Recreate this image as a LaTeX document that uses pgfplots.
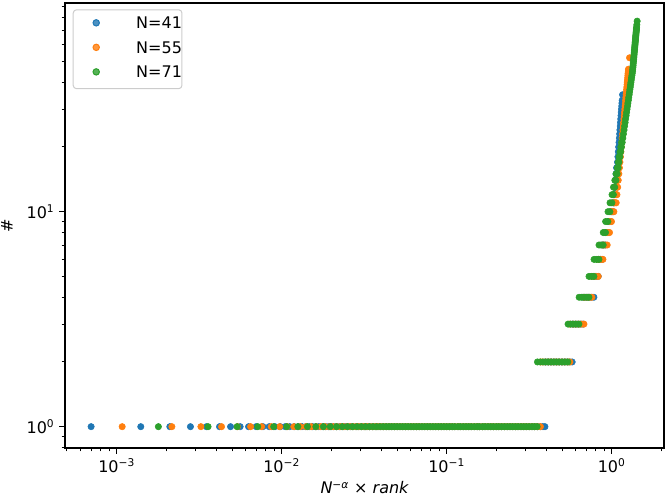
\documentclass[border=0pt]{standalone}
\usepackage{fontspec}
\setmainfont{DejaVu Sans}
\usepackage{pgfplots}
\pgfplotsset{compat=1.18}
\definecolor{c1}{HTML}{1F77B4}
\definecolor{c2}{HTML}{FF7F0E}
\definecolor{c3}{HTML}{2CA02C}
\newcommand{\fs}{\fontsize{12}{14}\selectfont}
\begin{document}
\begin{tikzpicture}
\begin{loglogaxis}[
  scale only axis, width=449.25pt, height=333.75pt,
  xmin=4.862e-4, xmax=2.075, ymin=0.796, ymax=93.5,
  log basis x=10, log basis y=10,
  axis line style={line width=1pt},
  tick align=outside, tick pos=left,
  major tick length=4.4pt, minor tick length=2.5pt,
  major tick style={line width=1pt, black},
  minor tick style={line width=0.75pt, black},
  xtick={0.001,0.01,0.1,1},
  xticklabels={10\textsuperscript{−3},10\textsuperscript{−2},10\textsuperscript{−1},10\textsuperscript{0}},
  minor xtick={0.0005,0.0006,0.0007,0.0008,0.0009,0.002,0.003,0.004,0.005,0.006,0.007,0.008,0.009,0.02,0.03,0.04,0.05,0.06,0.07,0.08,0.09,0.2,0.3,0.4,0.5,0.6,0.7,0.8,0.9,2},
  ytick={1,10},
  yticklabels={10\textsuperscript{0},10\textsuperscript{1}},
  minor ytick={0.8,0.9,2,3,4,5,6,7,8,9,20,30,40,50,60,70,80,90},
  ticklabel style={font=\fs},
  xlabel={{\itshape N}\textsuperscript{−\itshape α} × {\itshape rank}},
  ylabel={\#},
  xlabel style={at={(axis description cs:0.5,-0.0899)}, anchor=center, font=\fs},
  ylabel style={at={(axis description cs:-0.0968,0.5)}, anchor=center, font=\fs},
  legend style={at={(axis description cs:0,1)}, anchor=north west, xshift=5.8pt, yshift=-4.7pt,
    draw=black!20, line width=0.75pt, rounded corners=2.5pt, fill=white, fill opacity=0.8, text opacity=1,
    inner xsep=0pt, inner ysep=5.2pt, row sep=6.4pt, column sep=0pt, font=\fs,
    nodes={inner sep=0pt, text height=9pt, text depth=3pt, anchor=base west}},
  legend image code/.code={\path[draw=none,fill=none] (-17.25pt,0pt) rectangle (30pt,1pt); \draw[mark repeat=1,mark phase=1,#1] plot coordinates {(0pt,4.4pt)};},
  every axis plot/.append style={only marks, mark=*, mark size=2.4pt},
]
% N=41
\addplot[c1, mark options={draw=c1, fill=c1}] coordinates {
(0.0007,1)(0.0014,1)(0.0021,1)(0.0028,1)(0.0035,1)(0.0042,1)(0.0049,1)(0.0056,1)(0.0063,1)(0.007,1)(0.0077,1)(0.0084,1)(0.0091,1)(0.0098,1)(0.0105,1)(0.0112,1)(0.0119,1)(0.0126,1)(0.0133,1)(0.014,1)(0.0147,1)(0.0154,1)(0.0161,1)(0.0168,1)
(0.0178,1)(0.0185,1)(0.0192,1)(0.02,1)(0.0207,1)(0.0215,1)(0.0224,1)(0.0233,1)(0.0242,1)(0.0251,1)(0.0261,1)(0.0271,1)(0.0282,1)(0.0293,1)(0.0304,1)(0.0316,1)(0.0329,1)(0.0341,1)(0.0355,1)(0.0369,1)(0.0383,1)(0.0398,1)(0.0414,1)(0.043,1)(0.0447,1)(0.0464,1)(0.0482,1)(0.0501,1)(0.0521,1)(0.0541,1)(0.0562,1)(0.0584,1)(0.0607,1)(0.0631,1)(0.0656,1)(0.0681,1)(0.0708,1)(0.0736,1)(0.0764,1)(0.0794,1)(0.0825,1)(0.0858,1)(0.0891,1)(0.0926,1)(0.0962,1)(0.1,1)(0.104,1)(0.108,1)(0.112,1)(0.117,1)(0.121,1)(0.126,1)(0.131,1)(0.136,1)(0.141,1)(0.147,1)(0.153,1)(0.158,1)(0.165,1)(0.171,1)(0.178,1)(0.185,1)(0.192,1)(0.2,1)(0.207,1)(0.215,1)(0.224,1)(0.233,1)(0.242,1)(0.251,1)(0.261,1)(0.271,1)(0.282,1)(0.293,1)(0.304,1)(0.316,1)(0.329,1)(0.341,1)(0.355,1)(0.369,1)(0.383,1)(0.394,1)
(0.395,2)(0.41,2)(0.426,2)(0.443,2)(0.46,2)(0.478,2)(0.497,2)(0.516,2)(0.536,2)(0.557,2)(0.576,2)
(0.577,3)(0.6,3)(0.623,3)(0.647,3)(0.67,3)
(0.671,4)(0.697,4)(0.724,4)(0.752,4)(0.78,4)
(0.781,5)(0.805,5)(0.829,5)
(0.83,6)(0.853,6)(0.876,6)
(0.877,7)(0.897,7)(0.917,7)
(0.918,8)(0.936,8)(0.954,8)
(0.955,9)(0.972,9)(0.989,9)
(0.99,10)(1.005,10)(1.021,10)
(1.022,11)(1.032,11)(1.033,12)(1.043,12)(1.044,13)(1.053,13)(1.054,14)(1.062,14)(1.063,15)(1.07,15)(1.071,16)(1.078,16)
(1.085,17)(1.091,18)(1.097,19)(1.102,20)(1.108,21)(1.113,22)(1.118,23)(1.122,24)(1.127,25)(1.131,26)(1.135,27)(1.139,28)(1.143,29)(1.147,30)(1.151,31)(1.154,32)(1.158,33)(1.164,35)
};
\addlegendentry{N=41}
% N=55
\addplot[c2, mark options={draw=c2, fill=c2}] coordinates {
(0.00108,1)(0.00216,1)(0.00324,1)(0.00432,1)(0.0054,1)(0.00648,1)(0.00756,1)(0.00864,1)(0.00972,1)(0.0108,1)(0.01188,1)(0.01296,1)(0.01404,1)(0.01512,1)(0.0162,1)(0.01728,1)(0.01836,1)(0.01944,1)(0.02052,1)(0.0216,1)(0.02268,1)(0.02376,1)(0.02484,1)(0.02592,1)
(0.0271,1)(0.0282,1)(0.0293,1)(0.0304,1)(0.0316,1)(0.0329,1)(0.0341,1)(0.0355,1)(0.0369,1)(0.0383,1)(0.0398,1)(0.0414,1)(0.043,1)(0.0447,1)(0.0464,1)(0.0482,1)(0.0501,1)(0.0521,1)(0.0541,1)(0.0562,1)(0.0584,1)(0.0607,1)(0.0631,1)(0.0656,1)(0.0681,1)(0.0708,1)(0.0736,1)(0.0764,1)(0.0794,1)(0.0825,1)(0.0858,1)(0.0891,1)(0.0926,1)(0.0962,1)(0.1,1)(0.104,1)(0.108,1)(0.112,1)(0.117,1)(0.121,1)(0.126,1)(0.131,1)(0.136,1)(0.141,1)(0.147,1)(0.153,1)(0.158,1)(0.165,1)(0.171,1)(0.178,1)(0.185,1)(0.192,1)(0.2,1)(0.207,1)(0.215,1)(0.224,1)(0.233,1)(0.242,1)(0.251,1)(0.261,1)(0.271,1)(0.282,1)(0.293,1)(0.304,1)(0.316,1)(0.329,1)(0.341,1)(0.355,1)(0.37,1)
(0.371,2)(0.383,2)(0.398,2)(0.414,2)(0.43,2)(0.447,2)(0.464,2)(0.482,2)(0.501,2)(0.521,2)(0.541,2)(0.558,2)
(0.559,3)(0.584,3)(0.607,3)(0.631,3)(0.656,3)(0.679,3)
(0.68,4)(0.708,4)(0.736,4)(0.759,4)
(0.76,5)(0.794,5)(0.829,5)
(0.83,6)(0.858,6)(0.885,6)
(0.886,7)(0.912,7)(0.939,7)
(0.94,8)(0.97,8)
(0.971,9)(0.997,9)
(0.998,10)(1.015,10)(1.031,10)
(1.032,11)(1.048,11)(1.065,11)
(1.066,12)(1.076,12)(1.077,13)(1.087,13)(1.088,14)(1.096,14)(1.097,15)(1.105,15)(1.106,16)(1.114,16)
(1.122,17)(1.13,18)(1.137,19)(1.144,20)(1.151,21)(1.157,22)(1.164,23)(1.17,24)(1.175,25)(1.181,26)(1.186,27)(1.191,28)(1.196,29)(1.201,30)(1.206,31)(1.211,32)(1.215,33)(1.219,34)(1.224,35)(1.228,36)(1.232,37)(1.236,38)(1.24,39)(1.243,40)(1.247,41)(1.251,42)(1.254,43)(1.257,44)(1.261,45)(1.264,46)(1.283,52)
};
\addlegendentry{N=55}
% N=71
\addplot[c3, mark options={draw=c3, fill=c3}] coordinates {
(0.00179,1)(0.00358,1)(0.00537,1)(0.00716,1)(0.00895,1)(0.01074,1)(0.01253,1)(0.01432,1)(0.01611,1)(0.0179,1)(0.01969,1)(0.02148,1)(0.02327,1)(0.02506,1)(0.02685,1)(0.02864,1)(0.03043,1)(0.03222,1)(0.03401,1)(0.0358,1)(0.03759,1)(0.03938,1)(0.04117,1)(0.04296,1)
(0.0447,1)(0.0464,1)(0.0482,1)(0.0501,1)(0.0521,1)(0.0541,1)(0.0562,1)(0.0584,1)(0.0607,1)(0.0631,1)(0.0656,1)(0.0681,1)(0.0708,1)(0.0736,1)(0.0764,1)(0.0794,1)(0.0825,1)(0.0858,1)(0.0891,1)(0.0926,1)(0.0962,1)(0.1,1)(0.104,1)(0.108,1)(0.112,1)(0.117,1)(0.121,1)(0.126,1)(0.131,1)(0.136,1)(0.141,1)(0.147,1)(0.153,1)(0.158,1)(0.165,1)(0.171,1)(0.178,1)(0.185,1)(0.192,1)(0.2,1)(0.207,1)(0.215,1)(0.224,1)(0.233,1)(0.242,1)(0.251,1)(0.261,1)(0.271,1)(0.282,1)(0.293,1)(0.304,1)(0.316,1)(0.329,1)(0.341,1)(0.3535,1)
(0.355,2)(0.369,2)(0.383,2)(0.398,2)(0.414,2)(0.43,2)(0.447,2)(0.464,2)(0.482,2)(0.501,2)(0.521,2)(0.5426,2)
(0.544,3)(0.562,3)(0.584,3)(0.607,3)(0.633,3)
(0.635,4)(0.656,4)(0.681,4)(0.708,4)(0.728,4)
(0.729,5)(0.755,5)(0.78,5)
(0.782,6)(0.809,6)(0.837,6)
(0.838,7)(0.862,7)(0.888,7)
(0.889,8)(0.917,8)
(0.919,9)(0.948,9)
(0.95,10)(0.975,10)
(0.977,11)(1.003,11)
(1.005,12)(1.024,12)(1.025,13)(1.043,13)(1.045,14)(1.061,14)(1.063,15)(1.079,15)(1.081,16)(1.094,16)(1.096,17)(1.107,17)(1.109,18)(1.121,18)(1.123,19)(1.134,19)(1.136,20)(1.146,20)(1.148,21)(1.158,21)
(1.168,22)(1.178,23)(1.188,24)(1.197,25)(1.206,26)(1.214,27)(1.223,28)(1.231,29)(1.239,30)(1.247,31)(1.254,32)(1.262,33)(1.268,34)(1.276,35)(1.282,36)(1.289,37)(1.296,38)(1.302,39)(1.308,40)(1.314,41)(1.32,42)(1.326,43)(1.332,44)(1.338,45)(1.341,46)(1.345,47)(1.348,48)(1.351,49)(1.355,50)(1.358,51)(1.361,52)(1.364,53)(1.367,54)(1.37,55)(1.373,56)(1.377,57)(1.379,58)(1.382,59)(1.385,60)(1.387,61)(1.39,62)(1.393,63)(1.395,64)(1.398,65)(1.401,66)(1.403,67)(1.406,68)(1.408,69)(1.411,70)(1.413,71)(1.415,72)(1.42,74)(1.427,77)
};
\addlegendentry{N=71}
\end{loglogaxis}
\pgfresetboundingbox
\useasboundingbox (current axis.south west) ++(-48.75pt,-37.5pt) rectangle ([xshift=1.5pt,yshift=2.25pt]current axis.north east);
\end{tikzpicture}
\end{document}
